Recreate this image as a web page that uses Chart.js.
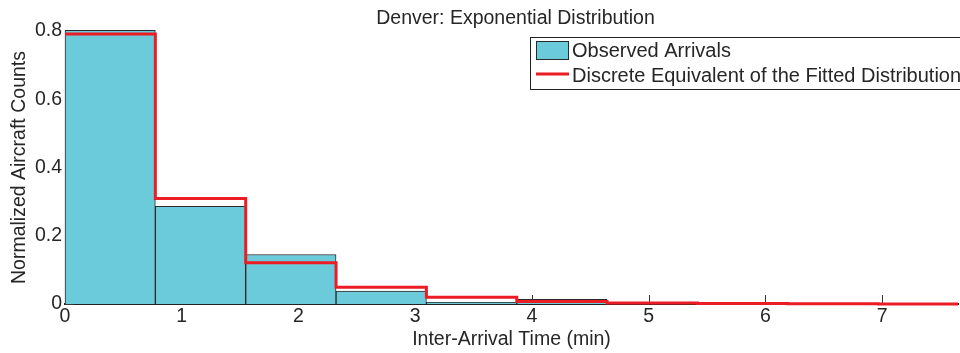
<!DOCTYPE html>
<html><head><meta charset="utf-8">
<script src="https://cdn.jsdelivr.net/npm/chart.js@4/dist/chart.umd.min.js"></script>
<style>html,body{margin:0;padding:0;background:#fff;} #wrap{width:960px;height:353px;position:relative;}</style>
</head><body><div id="wrap"><canvas id="c" width="960" height="353"></canvas></div>
<script>
const titleText = 'Denver: Exponential Distribution';
const xAxisTitle = 'Inter-Arrival Time (min)';
const yAxisTitle = 'Normalized Aircraft Counts';
const seriesLabels = ['Observed Arrivals', 'Discrete Equivalent of the Fitted Distribution'];
const binEdges = [0, 0.774, 1.548, 2.322, 3.096, 3.870, 4.644, 5.418, 6.192, 6.966, 7.740];
const observed = [0.802, 0.286, 0.145, 0.038, 0.005, 0.014, 0.003, 0, 0, 0];
const fitted = [0.791, 0.309, 0.121, 0.049, 0.020, 0.0075, 0.003, 0.0012, 0.0005, 0.0002];
const xTicks = [0, 1, 2, 3, 4, 5, 6, 7];
const yTicks = [0, 0.2, 0.4, 0.6, 0.8];

const FONT = "'Liberation Sans', Arial, Helvetica, sans-serif";
const FS = 19.5;
const TXT = '#262626';
const BAR_FILL = '#6bcbdb';
const BAR_EDGE = '#2a2a2a';
const RED = '#ec1c24';

const barData = observed.map((v, i) => ({x: (binEdges[i] + binEdges[i + 1]) / 2, y: v}));
const lineData = fitted.map((v, i) => ({x: binEdges[i], y: v}));
lineData.push({x: binEdges[binEdges.length - 1], y: fitted[fitted.length - 1]});

const inwardTicks = {
  id: 'inwardTicks',
  beforeDatasetsDraw(chart) {
    const {ctx, chartArea: a, scales: {x, y}} = chart;
    ctx.save();
    ctx.strokeStyle = '#333';
    ctx.lineWidth = 1;
    ctx.beginPath();
    xTicks.forEach(v => { const px = Math.round(x.getPixelForValue(v)) + 0.5; ctx.moveTo(px, a.bottom); ctx.lineTo(px, a.bottom - 9); });
    yTicks.forEach(v => { const py = Math.round(y.getPixelForValue(v)) + 0.5; ctx.moveTo(a.left, py); ctx.lineTo(a.left + 9, py); });
    ctx.stroke();
    ctx.restore();
  }
};

const titleAndLegend = {
  id: 'titleAndLegend',
  afterDraw(chart) {
    const {ctx, chartArea: a} = chart;
    ctx.save();
    ctx.fillStyle = TXT;
    ctx.font = FS + 'px ' + FONT;
    ctx.textAlign = 'center';
    ctx.textBaseline = 'middle';
    ctx.fillText(titleText, (a.left + a.right) / 2 + 4, 19);
    // legend box
    ctx.fillStyle = '#fff';
    ctx.fillRect(530, 37, 440, 53);
    ctx.strokeStyle = '#222';
    ctx.lineWidth = 1;
    ctx.strokeRect(530.5, 37.5, 440, 52);
    // patch
    ctx.fillStyle = BAR_FILL;
    ctx.fillRect(536, 41, 33, 19);
    ctx.strokeStyle = BAR_EDGE;
    ctx.strokeRect(536.5, 41.5, 32, 18);
    // red line
    ctx.strokeStyle = RED;
    ctx.lineWidth = 3;
    ctx.beginPath(); ctx.moveTo(536, 74); ctx.lineTo(569, 74); ctx.stroke();
    ctx.fillStyle = TXT;
    ctx.textAlign = 'left';
    ctx.font = '20px ' + FONT;
    ctx.fillText(seriesLabels[0], 572, 51);
    ctx.fillText(seriesLabels[1], 572, 76);
    ctx.restore();
  }
};

new Chart(document.getElementById('c'), {
  type: 'bar',
  data: {
    datasets: [
      {
        type: 'line', label: seriesLabels[1], data: lineData,
        borderColor: RED, borderWidth: 3, stepped: true, pointRadius: 0, fill: false,
        clip: {left: 5, top: 5, right: 0, bottom: 5}, order: 0
      },
      {
        type: 'bar', label: seriesLabels[0], data: barData,
        backgroundColor: BAR_FILL, borderColor: BAR_EDGE, borderWidth: 1,
        borderSkipped: 'bottom', barPercentage: 1, categoryPercentage: 1,
        clip: {left: 5, top: 5, right: 0, bottom: 5}, order: 1
      }
    ]
  },
  options: {
    responsive: false, animation: false,
    layout: {padding: {top: 31, right: 2, bottom: 0, left: 0}},
    plugins: {legend: {display: false}, tooltip: {enabled: false}, title: {display: false}},
    scales: {
      x: {
        type: 'linear', min: 0, max: 7.65, offset: false, z: 1,
        afterBuildTicks: s => { s.ticks = xTicks.map(v => ({value: v})); },
        afterFit: s => { s.height = 49; },
        ticks: {font: {size: FS, family: FONT}, color: TXT, padding: 1, maxRotation: 0, autoSkip: false},
        grid: {display: false, drawTicks: false},
        border: {display: true, color: '#222', width: 2},
        title: {display: true, text: xAxisTitle, font: {size: FS, family: FONT}, color: TXT, padding: {top: 0, bottom: 2}}
      },
      y: {
        type: 'linear', min: 0, max: 0.8,
        afterBuildTicks: s => { s.ticks = yTicks.map(v => ({value: v})); },
        afterFit: s => { s.width = 65; },
        ticks: {font: {size: FS, family: FONT}, color: TXT, padding: 3, callback: v => String(v)},
        grid: {display: false, drawTicks: false},
        border: {display: true, color: '#222', width: 1},
        title: {display: true, text: yAxisTitle, font: {size: FS, family: FONT}, color: TXT, padding: {top: 8, bottom: 0}}
      }
    }
  },
  plugins: [inwardTicks, titleAndLegend]
});
</script>
</body></html>
